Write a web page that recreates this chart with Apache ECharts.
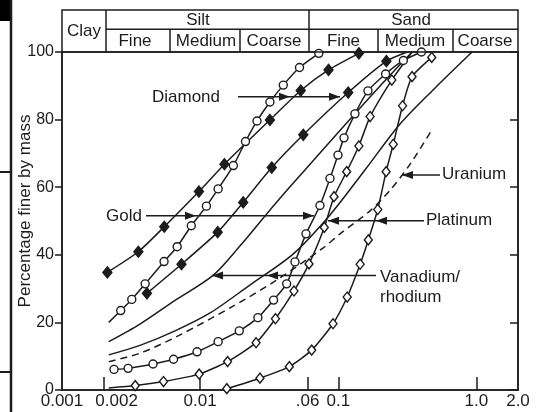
<!DOCTYPE html>
<html>
<head>
<meta charset="utf-8">
<script src="https://cdn.jsdelivr.net/npm/echarts@6/dist/echarts.min.js"></script>
<style>
html,body{margin:0;padding:0;background:#fff;}
#chart{width:537px;height:412px;}
</style>
</head>
<body>
<div id="chart"></div>
<script>
// Particle size (mm) and cumulative percentage finer by mass, one pair per sample curve
const diamond1Size = [0.00213, 0.00357, 0.0055, 0.0098, 0.015, 0.032, 0.0535, 0.085, 0.141];
const diamond1Pct  = [34.8, 40.9, 48.3, 58.7, 66.8, 79.9, 88.6, 94.7, 99.6];

const diamond2Size = [0.00412, 0.00733, 0.0134, 0.0205, 0.033, 0.0558, 0.118, 0.223, 0.315];
const diamond2Pct  = [28.6, 37.2, 46.7, 55.5, 65.8, 75.5, 88.0, 97.3, 100];

const gold1Size = [0.00218, 0.00266, 0.0032, 0.004, 0.00548, 0.00682, 0.00863, 0.0111, 0.0135, 0.0174, 0.0213, 0.0258, 0.032, 0.040, 0.0524, 0.0723];
const gold1Pct  = [20.0, 23.5, 26.8, 31.4, 38.0, 42.4, 48.6, 54.4, 59.5, 66.4, 73.5, 79.6, 85.2, 90.2, 95.4, 99.6];

const gold2Size = [0.00238, 0.00301, 0.00456, 0.00642, 0.0095, 0.0135, 0.0192, 0.0262, 0.034, 0.0423, 0.0486, 0.0584, 0.0737, 0.0871, 0.0995, 0.110, 0.132, 0.164, 0.22, 0.296, 0.40];
const gold2Pct  = [6.1, 6.4, 7.7, 9.1, 11.3, 14.3, 17.5, 21.4, 26.6, 31.4, 37.9, 46.2, 54.6, 62.6, 69.5, 74.6, 81.7, 88.5, 93.5, 97.5, 100];

const platinum1Size = [0.00218, 0.00339, 0.00543, 0.00984, 0.0158, 0.0254, 0.0351, 0.0478, 0.0614, 0.0792, 0.0931, 0.115, 0.141, 0.170, 0.244, 0.342];
const platinum1Pct  = [0.6, 1.3, 2.5, 4.7, 8.4, 14.0, 21.1, 29.3, 37.3, 48.1, 57.2, 64.6, 72.2, 80.9, 91.7, 100];

const platinum2Size = [0.0156, 0.0271, 0.0442, 0.0642, 0.0916, 0.116, 0.144, 0.165, 0.193, 0.222, 0.25, 0.292, 0.342, 0.475];
const platinum2Pct  = [0.4, 3.5, 6.9, 11.8, 19.6, 27.5, 37.2, 44.4, 53.4, 64.6, 72.7, 84.1, 92.7, 98.4];

const vanadium1Size = [0.00218, 0.00367, 0.00658, 0.0124, 0.0194, 0.0295, 0.0447, 0.0737, 0.122, 0.20, 0.342];
const vanadium1Pct  = [14.3, 19.5, 26.5, 33.9, 42.6, 51.5, 60.1, 70.1, 80.2, 89.9, 100];

const vanadium2Size = [0.00218, 0.00367, 0.00658, 0.0118, 0.023, 0.047, 0.0871, 0.156, 0.28, 0.50, 0.93];
const vanadium2Pct  = [10.4, 13.2, 17.5, 22.8, 31.1, 40.2, 51.8, 65.1, 78.7, 89.3, 100];

const uraniumSize = [0.00218, 0.00367, 0.00692, 0.01645, 0.0348, 0.0775, 0.103, 0.173, 0.245, 0.336, 0.485];
const uraniumPct  = [8.4, 10.9, 16.0, 24.3, 32.2, 42.0, 46.2, 53.3, 59.8, 67.2, 77.5];

// Axis ticks and labels
const xTickValues  = [0.001, 0.002, 0.01, 0.06, 0.1, 1, 2];
const xTickLabels  = ['0.001', '0.002', '0.01', '.06', '0.1', '1.0', '2.0'];
const xTickMarks   = [0.002, 0.01, 0.06, 0.1, 1];
const yTitle = 'Percentage finer by mass';

// Size-class header
const classTop = ['Clay', 'Silt', 'Sand'];
const classSub = ['Fine', 'Medium', 'Coarse', 'Fine', 'Medium', 'Coarse'];

const ink = '#1c1c1c';
const FONT = '"Liberation Sans", Arial, Helvetica, sans-serif';

function pairs(xs, ys) { return xs.map((x, i) => [x, ys[i]]); }

// marker styles
const filledDiamond = { symbol: 'diamond', size: [9, 11], fill: ink };
const openCircle   = { symbol: 'circle', size: 8, fill: '#fff' };
const openDiamond  = { symbol: 'diamond', size: [8, 10], fill: '#fff' };

function curve(xs, ys, marker, opts) {
  opts = opts || {};
  const n = xs.length;
  const bare = opts.bare || [];
  const s = {
    type: 'line',
    data: pairs(xs, ys),
    smooth: opts.smooth != null ? opts.smooth : 0.2,
    lineStyle: { color: ink, width: 1.5, type: opts.dash ? [7, 5] : 'solid' },
    silent: true,
    z: 3
  };
  if (marker) {
    s.symbol = marker.symbol;
    s.symbolSize = function (v, p) {
      const i = p.dataIndex;
      if (bare.indexOf(i) >= 0 || bare.indexOf(i - n) >= 0) return 0;
      return marker.size;
    };
    s.showSymbol = true;
    s.itemStyle = { color: marker.fill, borderColor: ink, borderWidth: 1.4 };
  } else {
    s.symbol = 'none';
  }
  return s;
}

function arrow(x1, x2, y, tips) {
  const dir = x2 > x1 ? 1 : -1;
  const els = [{ type: 'line', shape: { x1: x1, y1: y, x2: x2, y2: y }, style: { stroke: ink, lineWidth: 1.6 }, z: 20 }];
  tips.forEach(function (t) {
    els.push({ type: 'polygon', shape: { points: [[t, y], [t - dir * 11, y - 4], [t - dir * 11, y + 4]] }, style: { fill: ink }, z: 20 });
  });
  return els;
}
function label(text, x, y, align, size) {
  return { type: 'text', x: x, y: y, z: 20, style: { text: text, font: (size || 17) + 'px ' + FONT, fill: ink, align: align || 'left', verticalAlign: 'middle' } };
}
function hline(x1, x2, y, w) { return { type: 'line', shape: { x1: x1, y1: y, x2: x2, y2: y }, style: { stroke: ink, lineWidth: w || 1.5 }, z: 15 }; }
function vline(x, y1, y2, w) { return { type: 'line', shape: { x1: x, y1: y1, x2: x, y2: y2 }, style: { stroke: ink, lineWidth: w || 1.5 }, z: 15 }; }

const chart = echarts.init(document.getElementById('chart'), null, { renderer: 'canvas' });

const headerY0 = 10, headerMid = 29.3, headerY1 = 52;
const graphics = [].concat(
  // page edge marks
  [{ type: 'rect', shape: { x: 0, y: 0, width: 12, height: 21 }, style: { fill: '#000' } },
   vline(11, 0, 412, 2.5), hline(0, 11, 172, 2), hline(0, 11, 372, 2)],
  // header table
  [{ type: 'rect', shape: { x: 62, y: headerY0, width: 456, height: headerY1 - headerY0 }, style: { fill: 'none', stroke: ink, lineWidth: 1.5 }, z: 15 },
   hline(106, 518, headerMid),
   vline(106, headerY0, headerY1), vline(309, headerY0, headerY1),
   vline(170, headerMid, headerY1), vline(240, headerMid, headerY1),
   vline(378, headerMid, headerY1), vline(453, headerMid, headerY1),
   label(classTop[0], 84, 31, 'center'), label(classTop[1], 198, 20.5, 'center'), label(classTop[2], 411, 20.5, 'center'),
   label(classSub[0], 135, 41, 'center'), label(classSub[1], 206, 41, 'center'), label(classSub[2], 274, 41, 'center'),
   label(classSub[3], 343.5, 41, 'center'), label(classSub[4], 415, 41, 'center'), label(classSub[5], 485, 41, 'center')],
  // axis title
  [{ type: 'text', x: 25, y: 211, rotation: Math.PI / 2, z: 20, style: { text: yTitle, font: '17px ' + FONT, fill: ink, align: 'center', verticalAlign: 'middle' } }],
  // sample annotations
  [label('Diamond', 152, 97.5)], arrow(238, 340, 96.7, [290, 340]),
  [label('Gold', 106, 216)], arrow(146, 314, 215.7, [196, 314]),
  [label('Platinum', 426, 220.5)], arrow(424, 328, 220.7, [376, 328]),
  [label('Uranium', 442, 174.5)], arrow(440, 402, 175, [402]),
  [label('Vanadium/', 380, 277.5), label('rhodium', 380, 297.5)], arrow(376, 212, 275.5, [267, 212])
);

function xLabelIndex(v) {
  for (let i = 0; i < xTickValues.length; i++) {
    if (Math.abs(Math.log10(v / xTickValues[i])) < 0.01) return i;
  }
  return -1;
}

chart.setOption({
  animation: false,
  backgroundColor: '#fff',
  textStyle: { fontFamily: FONT },
  grid: { left: 62, right: 19, top: 52, bottom: 22, containLabel: false, outerBoundsMode: 'none', show: true, borderColor: ink, borderWidth: 1.5, backgroundColor: 'transparent' },
  xAxis: {
    type: 'log', logBase: 10, min: 0.001, max: 2,
    axisLine: { show: true, lineStyle: { color: ink, width: 1.5 } },
    axisTick: { show: true, inside: true, length: 13, customValues: xTickMarks, lineStyle: { color: ink, width: 1.5 } },
    minorTick: { show: false },
    splitLine: { show: false },
    axisLabel: {
      show: true, margin: 3, fontSize: 17, color: ink, fontFamily: FONT,
      customValues: xTickValues,
      formatter: function (v) {
        const i = xLabelIndex(v);
        if (i < 0) return '';
        return i === 1 ? '{s|' + xTickLabels[i] + '}' : xTickLabels[i];
      },
      rich: { s: { padding: [0, 0, 0, 26], fontSize: 17, color: ink, fontFamily: FONT } },
      hideOverlap: false
    }
  },
  yAxis: [{
    type: 'value', min: 0, max: 100, interval: 20, position: 'left',
    axisLine: { show: true, lineStyle: { color: ink, width: 1.5 } },
    axisTick: { show: true, inside: false, length: 7, lineStyle: { color: ink, width: 1.5 } },
    splitLine: { show: false },
    axisLabel: { margin: 8, fontSize: 16, color: ink, fontFamily: FONT }
  }, {
    type: 'value', min: 0, max: 100, interval: 20, position: 'right',
    axisLine: { show: true, lineStyle: { color: ink, width: 1.5 } },
    axisTick: { show: true, inside: true, length: 8, lineStyle: { color: ink, width: 1.5 } },
    splitLine: { show: false },
    axisLabel: { show: false }
  }],
  series: [
    curve(vanadium1Size, vanadium1Pct, null, { smooth: 0.3 }),
    curve(vanadium2Size, vanadium2Pct, null, { smooth: 0.3 }),
    curve(uraniumSize, uraniumPct, null, { smooth: 0.3, dash: true }),
    curve(diamond1Size, diamond1Pct, filledDiamond),
    curve(diamond2Size, diamond2Pct, filledDiamond, { bare: [-1] }),
    curve(gold1Size, gold1Pct, openCircle, { bare: [0] }),
    curve(gold2Size, gold2Pct, openCircle),
    curve(platinum1Size, platinum1Pct, openDiamond, { bare: [0, -1] }),
    curve(platinum2Size, platinum2Pct, openDiamond)
  ],
  graphic: { elements: graphics }
});
</script>
</body>
</html>
